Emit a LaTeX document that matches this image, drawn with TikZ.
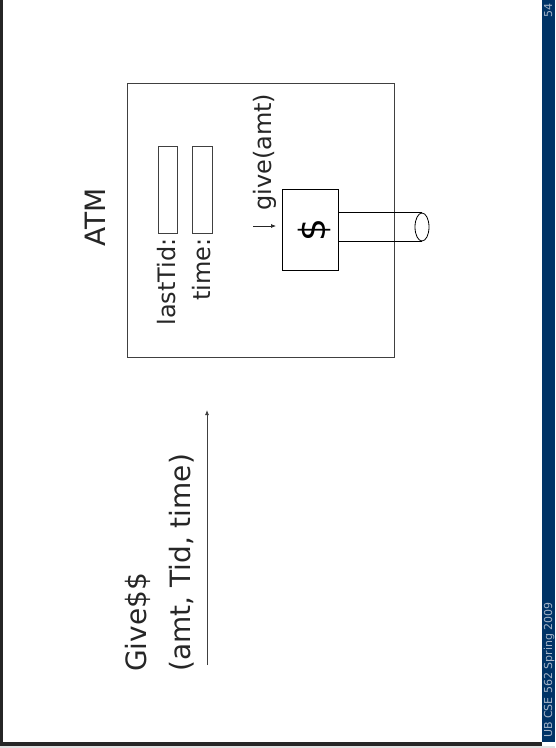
\documentclass[tikz,border=0pt]{standalone}
\usepackage{fontspec}
\setmainfont{DejaVu Sans}
\usetikzlibrary{shapes.geometric, arrows.meta}
\definecolor{folienblau}{RGB}{0,51,102}
\definecolor{fussgrau}{RGB}{165,180,200}

\begin{document}
\begin{tikzpicture}[x=1pt, y=-1pt,
    txt/.style={rotate=90, inner sep=0pt, text=black!85, font=\fontsize{24}{26}\selectfont},
    gross/.style={font=\fontsize{28}{30}\selectfont},
    kasten/.style={draw=black!75, line width=0.8pt}]
    \useasboundingbox (0,0) rectangle (555,748);
    
    % Folienrand und Fußleiste
    \fill[white] (0,0) rectangle (555,748);
    \fill[black!85] (0,0) rectangle (3,746);
    \fill[black!85] (0,742) rectangle (542,746);
    \fill[black!12] (0,746) rectangle (555,748);
    \fill[folienblau] (542,0) rectangle (555,742);
    \node[rotate=90, anchor=base west, inner sep=0pt, text=fussgrau, font=\fontsize{11}{12}\selectfont] (fuss) at (552,738) {UB CSE 562 Spring 2009};
    \node[rotate=90, anchor=base east, inner sep=0pt, text=fussgrau, font=\fontsize{11}{12}\selectfont] (seite) at (552,3) {54};
    
    % Geldautomat
    \node[txt, gross, anchor=base west] (atm) at (105,247) {ATM};
    \draw[kasten] (127,83) rectangle (394,357);
    
    % Register
    \draw[kasten] (158,146) rectangle (177,233);
    \draw[kasten] (192,146) rectangle (212,233);
    \node[txt, anchor=base east] (lasttid) at (175,238) {lastTid:};
    \node[txt, anchor=base east] (zeit) at (210,238) {time:};
    
    % Geldausgabe
    \node[draw=black, line width=0.8pt, minimum width=56pt, minimum height=81pt, inner sep=0pt] (geld) at (310,229.5) {};
    \node[txt, text=black, font=\fontsize{36}{38}\selectfont] (dollar) at (314,230) {\$};
    \node[txt, anchor=base west] (give) at (271,211) {give(amt)};
    \coordinate (pfeilanfang) at (253,226);
    \coordinate (pfeilende) at (276,226);
    \draw[black!85, line width=0.7pt, -{Latex[length=5pt, width=4pt]}] (pfeilanfang) -- (pfeilende);
    
    % Auswurfschacht
    \node[draw=black, line width=0.8pt, ellipse, minimum width=14pt, minimum height=28pt, inner sep=0pt] (schacht) at (422,227) {};
    \draw[line width=0.8pt] (geld.east |- schacht.north) -- (schacht.north);
    \draw[line width=0.8pt] (geld.east |- schacht.south) -- (schacht.south);
    
    % Nachricht
    \node[txt, gross, anchor=base west] (nachricht) at (146,672) {Give\$\$};
    \node[txt, gross, anchor=base west] (parameter) at (190,672) {(amt, Tid, time)};
    \coordinate (start) at (207,665);
    \coordinate (ziel) at (207,410);
    \draw[black!75, line width=0.8pt, -{Latex[length=5pt, width=4pt]}] (start) -- (ziel);
\end{tikzpicture}
\end{document}
